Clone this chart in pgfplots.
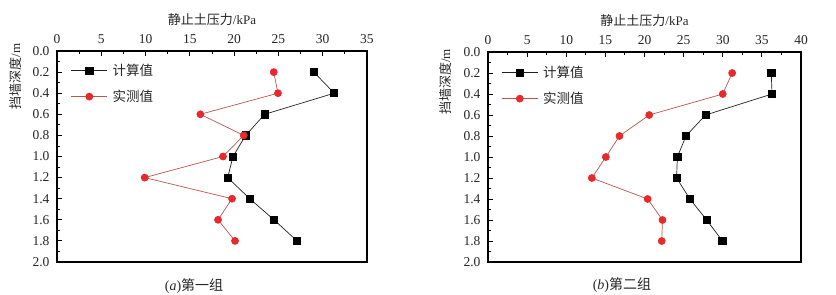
\documentclass[border=0pt]{standalone}
\usepackage{pgfplots}
\pgfplotsset{compat=1.18}
\usepackage{fontspec}
\setmainfont{Liberation Serif}
\newfontfamily\cjk{Noto Sans CJK SC}
\definecolor{redm}{HTML}{E8282B}
\definecolor{redl}{HTML}{B8564E}
\definecolor{blk}{HTML}{222222}
\pgfplotsset{
  common/.style={
    anchor=south west,
    scale only axis,
    clip=false,
    y dir=reverse,
    ymin=0, ymax=2,
    xmin=0,
    axis line style={line width=1.4bp, black},
    xticklabel pos=top,
    xtick pos=top,
    ytick pos=left,
    tick align=inside,
    major tick length=5bp,
    minor tick length=3bp,
    tick style={black, line width=0.9bp},
    minor x tick num=1,
    minor y tick num=1,
    ytick={0,0.2,0.4,0.6,0.8,1.0,1.2,1.4,1.6,1.8,2.0},
    tick label style={font=\rmfamily\fontsize{13.5bp}{15bp}\selectfont, text=black!85},
    xticklabel style={yshift=4bp},
    yticklabel style={xshift=-4bp, /pgf/number format/.cd, fixed, fixed zerofill, precision=1},
    /pgf/number format/assume math mode=true,
    label style={font=\fontsize{13bp}{15bp}\selectfont, text=black!85},
    xlabel={\cjk 静止土压力\rmfamily/kPa},
    ylabel={\cjk 挡墙深度\rmfamily/m},
    xlabel style={at={(rel axis cs:0.5,1)}, anchor=base, yshift=27bp},
    legend cell align=left,
    legend style={draw=none, fill=white, font=\cjk\fontsize{13.5bp}{15bp}\selectfont, text=black!85,
      row sep=9bp, inner sep=2bp, anchor=north west},
    legend image code/.code={\draw[mark repeat=2,mark phase=2,#1] plot coordinates {(0bp,0bp) (18bp,0bp) (36bp,0bp)}; \path (39bp,0bp);},
  },
  calc/.style={blk, line width=0.7bp, mark=square*, mark size=3.6bp, mark options={solid, fill=black, draw=black}},
  meas/.style={redl, line width=0.7bp, mark=*, mark size=3.5bp, mark options={solid, fill=redm, draw=redm}},
}
\begin{document}
\begin{tikzpicture}
\useasboundingbox (0,0) rectangle (836bp,295bp);
\begin{axis}[common, at={(57bp,33bp)}, width=310bp, height=211bp,
  xmax=35, xtick={0,5,...,35},
  ylabel style={at={(rel axis cs:-0.135,0.88)}, anchor=center},
  legend style={at={(rel axis cs:0.038,0.957)}}]
\addplot[calc] coordinates {(29.0,0.2) (31.3,0.4) (23.45,0.6) (21.3,0.8) (19.87,1.0) (19.27,1.2) (21.76,1.4) (24.5,1.6) (27.1,1.8)};
\addlegendentry{计算值}
\addplot[meas] coordinates {(24.47,0.2) (24.95,0.4) (16.19,0.6) (21.08,0.8) (18.74,1.0) (9.9,1.2) (19.76,1.4) (18.18,1.6) (20.1,1.8)};
\addlegendentry{实测值}
\node[font=\fontsize{14bp}{15bp}\selectfont, text=black!85] at (rel axis cs:0.442,-0.112) {(\textit{a})\cjk 第一组};
\end{axis}
\begin{axis}[common, at={(488bp,33bp)}, width=313bp, height=210bp,
  xmax=40, xtick={0,5,...,40},
  ylabel style={at={(rel axis cs:-0.137,0.857)}, anchor=center},
  legend style={at={(rel axis cs:0.036,0.952)}}]
\addplot[calc] coordinates {(36.2,0.2) (36.3,0.4) (27.8,0.6) (25.3,0.8) (24.2,1.0) (24.1,1.2) (25.8,1.4) (27.95,1.6) (29.96,1.8)};
\addlegendentry{计算值}
\addplot[meas] coordinates {(31.2,0.2) (30.0,0.4) (20.6,0.6) (16.8,0.8) (15.06,1.0) (13.27,1.2) (20.4,1.4) (22.3,1.6) (22.2,1.8)};
\addlegendentry{实测值}
\node[font=\fontsize{14bp}{15bp}\selectfont, text=black!85] at (rel axis cs:0.428,-0.112) {(\textit{b})\cjk 第二组};
\end{axis}
\end{tikzpicture}
\end{document}
